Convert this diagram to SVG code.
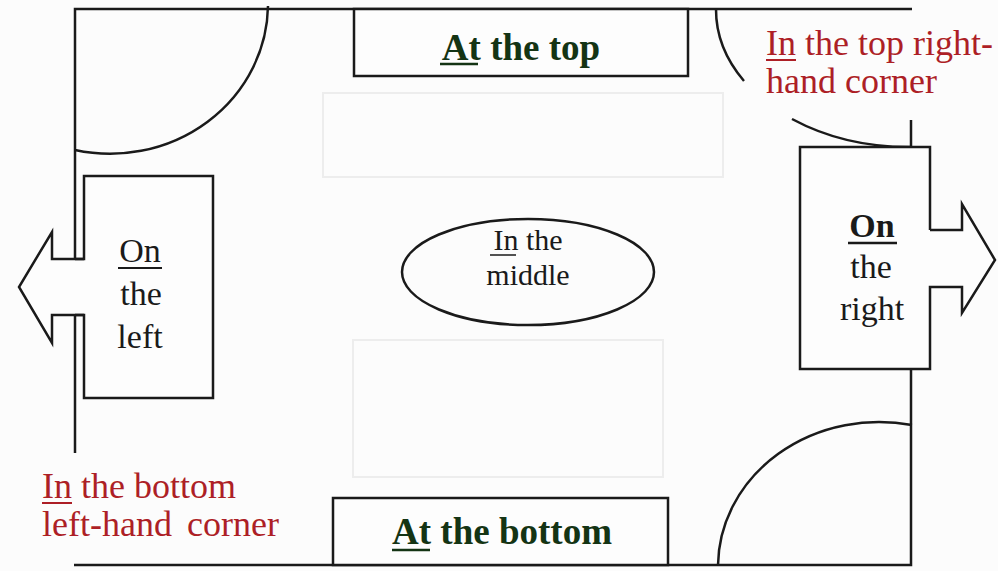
<svg xmlns="http://www.w3.org/2000/svg" width="998" height="571" viewBox="0 0 998 571">
<style>
.ln{fill:none;stroke:#1a1a1a;stroke-width:2.5}
.bx{fill:#fdfdfd;stroke:#1a1a1a;stroke-width:2.5}
.fl{fill:#fdfdfd;stroke:none}
.ghost{fill:none;stroke:#ededed;stroke-width:2}
.t{font-family:"Liberation Serif","Times New Roman",serif;fill:#1a1a1a;text-anchor:middle}
.g{font-family:"Liberation Serif","Times New Roman",serif;font-weight:bold;fill:#143414;font-size:37px;text-anchor:middle}
.r{font-family:"Liberation Serif","Times New Roman",serif;fill:#ad1f26;font-size:36px}
</style>
<rect width="998" height="571" fill="#fcfcfc"/>
<g id="ghosts">
<rect class="ghost" x="323" y="93" width="400" height="84"/>
<rect class="ghost" x="353" y="340" width="310" height="137"/>
</g>
<g id="walls">
<path class="ln" d="M75,259 V9 H912"/>
<path class="ln" d="M75,315 V453"/>
<path class="ln" d="M911,120 V147"/>
<path class="ln" d="M911,369 V565 H74"/>
<path class="ln" d="M75,150 A158,150 0 0 0 268,6"/>
<path class="ln" d="M716,9 A194,138 0 0 0 744,81"/>
<path class="ln" d="M792,119 A194,138 0 0 0 911,147"/>
<path class="ln" d="M718,565 A161,145 0 0 1 912,425"/>
</g>
<g id="top">
<rect class="bx" x="354" y="9" width="334" height="67"/>
<text class="g" x="521" y="60">At the top</text>
<line x1="440" y1="64" x2="478" y2="64" stroke="#143414" stroke-width="2.5"/>
</g>
<g id="bottom">
<rect class="bx" x="333" y="498" width="335" height="67"/>
<text class="g" x="502" y="544">At the bottom</text>
<line x1="392" y1="550" x2="430" y2="550" stroke="#143414" stroke-width="2.5"/>
</g>
<g id="left">
<path class="fl" d="M84,259 V176 H213 V398 H84 V315 H52 V343 L19,287 L52,232 V259 Z"/>
<path class="ln" d="M84,259 V176 H213 V398 H84 V315 H52 V343 L19,287 L52,232 V259 Z"/>
<path class="fl" d="M85.5,261 H90 V313 H85.5 Z"/>
<path class="ln" d="M75,259 H84 M75,315 H84"/>
<text class="t" font-size="34" x="140" y="262">On</text>
<line x1="118" y1="268" x2="162" y2="268" stroke="#1a1a1a" stroke-width="2"/>
<text class="t" font-size="34" x="141" y="305">the</text>
<text class="t" font-size="34" x="140" y="348">left</text>
</g>
<g id="right">
<path class="fl" d="M930,230 V147 H800 V369 H930 V287 H962 V313 L995,260 L962,204 V230 Z"/>
<path class="ln" d="M930,230 V147 H800 V369 H930 V287 H962 V313 L995,260 L962,204 V230 H930"/>
<path class="fl" d="M925,232 H931.5 V285 H925 Z"/>
<text class="t" font-size="34" font-weight="bold" x="872" y="237">On</text>
<line x1="848" y1="243" x2="897" y2="243" stroke="#1a1a1a" stroke-width="2.5"/>
<text class="t" font-size="34" x="871" y="278">the</text>
<text class="t" font-size="34" x="872" y="320">right</text>
</g>
<g id="middle">
<ellipse class="ln" cx="528" cy="272" rx="126" ry="53"/>
<text class="t" font-size="30" x="528" y="250">In the</text>
<line x1="490" y1="255" x2="516" y2="255" stroke="#1a1a1a" stroke-width="1.5"/>
<text class="t" font-size="30" x="528" y="285">middle</text>
</g>
<g id="top-right-corner">
<text class="r" x="766" y="55">In the top right-</text>
<line x1="766" y1="60" x2="796" y2="60" stroke="#ad1f26" stroke-width="2"/>
<text class="r" x="766" y="93">hand corner</text>
</g>
<g id="bottom-left-corner">
<text class="r" x="42" y="498">In the bottom</text>
<line x1="42" y1="503" x2="72" y2="503" stroke="#ad1f26" stroke-width="2"/>
<text class="r" x="42" y="536" word-spacing="6">left-hand corner</text>
</g>
</svg>
